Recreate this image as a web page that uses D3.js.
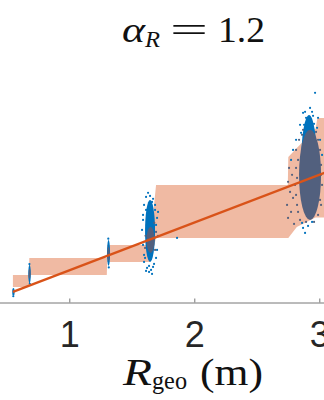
<!DOCTYPE html>
<html>
<head>
<meta charset="utf-8">
<script src="https://cdn.jsdelivr.net/npm/d3@7"></script>
<style>
  body { margin: 0; background: #fff; }
  .tick text { font-family: "Liberation Sans", Arial, sans-serif; }
</style>
</head>
<body>
<div id="chart"></div>
<script>
const WIDTH = 324, HEIGHT = 400;

// ticks
const xTicks = [1, 2, 3];

// fitted line (end points)
const fitX = [0.549, 3.06];
const fitY = [0.55, 3.05];

// shaded band: x, lower, upper
const bandX  = [0.549, 0.677, 0.680, 1.300, 1.303, 1.646, 1.694, 2.748, 2.752, 2.82, 2.97, 2.985, 3.06];
const bandLo = [0.654, 0.654, 0.904, 0.904, 1.175, 1.175, 1.675, 1.675, 1.675, 1.90, 2.10, 2.10, 2.10];
const bandHi = [0.904, 0.904, 1.258, 1.258, 1.529, 1.529, 2.779, 2.779, 3.36, 3.55, 3.95, 4.17, 4.17];

// dense cluster cores: centre x, centre y, half width, half height
const blueCoreX  = [0.553, 0.682, 1.314, 1.646, 2.918];
const blueCoreY  = [0.55, 0.925, 1.363, 1.821, 3.196];
const blueCoreRx = [0.008, 0.010, 0.012, 0.040, 0.064];
const blueCoreRy = [0.08, 0.19, 0.27, 0.646, 1.04];

const grayCoreX  = [0.682, 1.314, 1.650, 2.926];
const grayCoreY  = [0.93, 1.342, 1.633, 2.988];
const grayCoreRx = [0.007, 0.010, 0.032, 0.088];
const grayCoreRy = [0.10, 0.146, 0.27, 0.94];

// scattered points
const blueX = [1.630, 1.614, 1.670, 1.598, 1.686, 1.590, 1.694, 1.598, 1.678, 1.622, 1.654, 1.638, 1.670, 1.606, 1.710, 1.862,
               1.590, 1.702, 1.582, 1.710, 1.590, 1.702, 1.598, 1.694, 1.646, 1.662, 1.614, 1.686, 1.638, 1.614, 1.662,
               2.966, 2.870, 2.926, 2.894, 2.950, 2.846, 2.982, 2.814, 2.790, 2.774, 3.006, 3.022, 2.870, 2.886, 2.862, 2.942, 2.910,
               2.886, 2.918, 2.878, 2.958, 2.854, 2.990, 2.942,
               1.312, 1.316, 0.681, 0.684, 0.552];
const blueY = [2.613, 2.529, 2.488, 2.363, 2.258, 2.050, 1.946, 1.175, 1.133, 1.050, 1.008, 0.967, 1.071, 1.258, 2.217, 1.675,
               2.154, 2.092, 1.842, 1.717, 1.529, 1.425, 1.321, 1.258, 2.550, 2.425, 2.258, 2.363, 1.092, 0.988, 0.925,
               4.696, 4.279, 4.383, 4.175, 4.217, 4.029, 3.967, 3.717, 3.508, 3.300, 3.717, 3.404, 1.883, 1.779, 1.988, 2.008, 1.925,
               4.300, 4.133, 4.029, 4.050, 3.863, 4.175, 4.300,
               1.66, 1.06, 1.13, 0.72, 0.46];

const grayX = [1.694, 1.606, 1.686, 1.610, 1.680,
               2.758, 2.782, 2.750, 2.806, 2.766, 2.790, 2.742, 2.774, 2.750, 2.798, 2.814, 2.822, 2.838, 2.862, 2.990, 3.006, 3.014,
               2.814, 2.830, 2.822, 2.814, 2.830, 2.846, 3.006, 3.014, 3.022, 3.014, 2.990, 2.958, 2.894, 2.870, 2.974];
const grayY = [1.800, 1.467, 1.425, 1.720, 1.990,
               3.133, 2.988, 2.842, 2.779, 2.633, 2.508, 2.363, 2.217, 2.092, 1.967, 3.133, 2.363, 3.717, 3.821, 3.717, 2.467, 2.988,
               3.508, 3.300, 2.925, 2.571, 2.217, 2.050, 3.508, 3.196, 2.779, 2.363, 2.154, 2.008, 2.008, 3.925, 3.883];

const BLUE = "#0072BD", GRAY = "#52607e", ORANGE = "#D95319";

const svg = d3.select("#chart").append("svg").attr("width", WIDTH).attr("height", HEIGHT);

// x: 1 unit = 125 px, tick 1 at 69.3
const xScale = d3.scaleLinear().domain([0.4, 3.1]).range([69.3 - 0.6 * 125, 69.3 + 2.1 * 125]);
const yScale = d3.scaleLinear().domain([0.33, 5.38]).range([302.5, 60]);

// band
const bandData = bandX.map((x, i) => ({ x, lo: bandLo[i], hi: bandHi[i] }));
svg.append("path")
  .datum(bandData)
  .attr("fill", ORANGE)
  .attr("fill-opacity", 0.4)
  .attr("d", d3.area().x(d => xScale(d.x)).y0(d => yScale(d.lo)).y1(d => yScale(d.hi)));

// blue points
svg.append("g").selectAll("ellipse")
  .data(blueCoreX.map((x, i) => ({ x, y: blueCoreY[i], rx: blueCoreRx[i], ry: blueCoreRy[i] })))
  .join("ellipse")
  .attr("cx", d => xScale(d.x))
  .attr("cy", d => yScale(d.y))
  .attr("rx", d => Math.max(1.2, xScale(d.x + d.rx) - xScale(d.x)))
  .attr("ry", d => yScale(d.y - d.ry) - yScale(d.y))
  .attr("fill", BLUE);

svg.append("g").selectAll("circle")
  .data(blueX.map((x, i) => ({ x, y: blueY[i] })))
  .join("circle")
  .attr("cx", d => xScale(d.x))
  .attr("cy", d => yScale(d.y))
  .attr("r", 1.1)
  .attr("fill", BLUE);

// gray points on top
svg.append("g").selectAll("ellipse")
  .data(grayCoreX.map((x, i) => ({ x, y: grayCoreY[i], rx: grayCoreRx[i], ry: grayCoreRy[i] })))
  .join("ellipse")
  .attr("cx", d => xScale(d.x))
  .attr("cy", d => yScale(d.y))
  .attr("rx", d => Math.max(1, xScale(d.x + d.rx) - xScale(d.x)))
  .attr("ry", d => yScale(d.y - d.ry) - yScale(d.y))
  .attr("fill", GRAY);

svg.append("g").selectAll("circle")
  .data(grayX.map((x, i) => ({ x, y: grayY[i] })))
  .join("circle")
  .attr("cx", d => xScale(d.x))
  .attr("cy", d => yScale(d.y))
  .attr("r", 1.1)
  .attr("fill", GRAY);

// fit line
svg.append("path")
  .datum(fitX.map((x, i) => [x, fitY[i]]))
  .attr("fill", "none")
  .attr("stroke", ORANGE)
  .attr("stroke-width", 2.4)
  .attr("d", d3.line().x(d => xScale(d[0])).y(d => yScale(d[1])));

// x axis, ticks pointing inward
const xAxis = svg.append("g")
  .attr("transform", "translate(0, 302.5)")
  .call(d3.axisBottom(xScale).tickValues(xTicks).tickSizeInner(-4).tickSizeOuter(0).tickPadding(19).tickFormat(d3.format("d")));
xAxis.select(".domain").attr("stroke", "#777");
xAxis.selectAll(".tick line").attr("stroke", "#777");
xAxis.selectAll(".tick text").attr("font-size", 36).attr("fill", "#262626");

// x label
const xLabel = svg.append("g").attr("font-family", "'Liberation Serif', 'Times New Roman', serif").attr("fill", "#111");
xLabel.append("text").attr("x", 123).attr("y", 385).attr("font-size", 37).attr("font-style", "italic")
  .attr("textLength", 29).attr("lengthAdjust", "spacingAndGlyphs").text("R");
xLabel.append("text").attr("x", 152).attr("y", 389).attr("font-size", 26)
  .attr("textLength", 35).attr("lengthAdjust", "spacingAndGlyphs").text("geo");
xLabel.append("text").attr("x", 200).attr("y", 385).attr("font-size", 37)
  .attr("textLength", 63).attr("lengthAdjust", "spacingAndGlyphs").text("(m)");

// title
const title = svg.append("g").attr("font-family", "'Liberation Serif', 'Times New Roman', serif").attr("fill", "#111");
title.append("text").attr("x", 122).attr("y", 42).attr("font-size", 36).attr("font-style", "italic")
  .attr("textLength", 23).attr("lengthAdjust", "spacingAndGlyphs").text("α");
title.append("text").attr("x", 145).attr("y", 47).attr("font-size", 24).attr("font-style", "italic")
  .attr("textLength", 15).attr("lengthAdjust", "spacingAndGlyphs").text("R");
title.append("text").attr("x", 170).attr("y", 42).attr("font-size", 36)
  .attr("textLength", 38).attr("lengthAdjust", "spacingAndGlyphs").text("=");
title.append("text").attr("x", 218).attr("y", 42).attr("font-size", 36)
  .attr("textLength", 47).attr("lengthAdjust", "spacingAndGlyphs").text("1.2");
</script>
</body>
</html>
